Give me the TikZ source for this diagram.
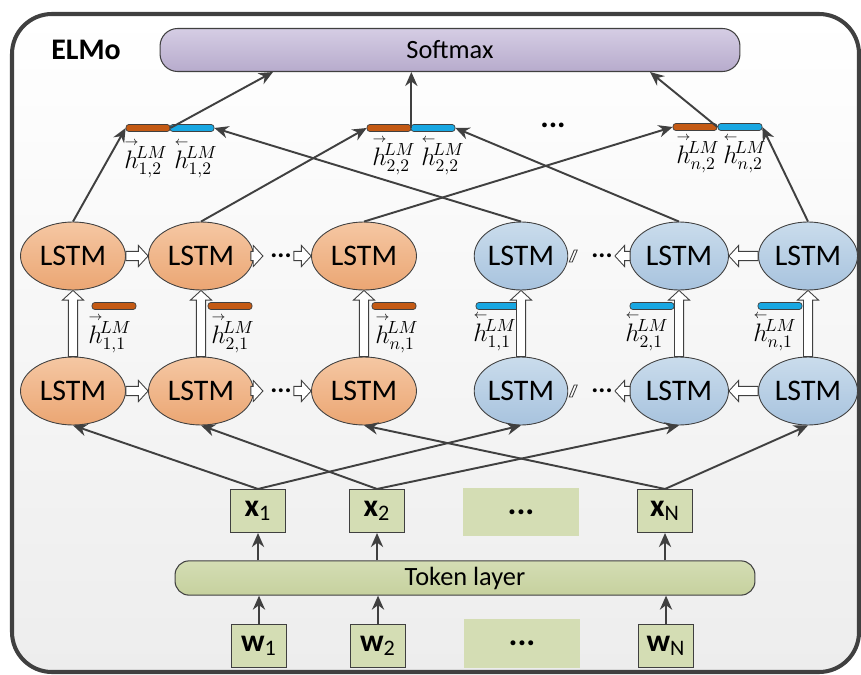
\documentclass[tikz,border=0pt]{standalone}
\usepackage{amsmath}
\usepackage{fontspec}
\setmainfont{Carlito}
\usetikzlibrary{arrows.meta}
\usetikzlibrary{shapes.geometric}
\usetikzlibrary{calc}

\definecolor{linegray}{HTML}{404040}
\definecolor{bggray}{HTML}{EDEDED}
\definecolor{softtop}{HTML}{D5CDE4}
\definecolor{softbot}{HTML}{B7ABCC}
\definecolor{orgtop}{HTML}{F5C7A3}
\definecolor{orgbot}{HTML}{EBA673}
\definecolor{blutop}{HTML}{CADCEC}
\definecolor{blubot}{HTML}{A8C3DE}
\definecolor{boxgreen}{HTML}{D4DDB4}
\definecolor{tokbot}{HTML}{C6D19E}
\definecolor{fwcol}{HTML}{C45A14}
\definecolor{bwcol}{HTML}{18A7E2}

\newcommand{\hf}[1]{\overset{\scriptscriptstyle\rightarrow}{h}{}^{\!LM}_{#1}}
\newcommand{\hb}[1]{\overset{\scriptscriptstyle\leftarrow}{h}{}^{\!LM}_{#1}}

\tikzset{
  lstmf/.style={ellipse, draw=linegray, line width=0.5pt, top color=orgtop, bottom color=orgbot,
    minimum width=2.1cm, minimum height=1.36cm, inner sep=0pt, font=\fontsize{17}{20}\selectfont},
  lstmb/.style={lstmf, top color=blutop, bottom color=blubot, minimum width=1.98cm},
  inbox/.style={rectangle, draw=linegray, line width=0.6pt, fill=boxgreen, minimum width=1.1cm,
    minimum height=0.86cm, inner sep=0pt, font=\fontsize{18}{20}\selectfont},
  dotbox/.style={rectangle, fill=boxgreen, minimum width=2.32cm, minimum height=0.98cm,
    font=\bfseries\fontsize{19}{20}\selectfont},
  fwbar/.style={rectangle, rounded corners=1.6pt, draw=linegray, line width=0.4pt, fill=fwcol,
    minimum width=0.88cm, minimum height=0.14cm, inner sep=0pt},
  bwbar/.style={fwbar, fill=bwcol},
  link/.style={draw=linegray, line width=1.1pt, -{Stealth[length=8pt,width=7pt]}},
  hollow/.style={draw=linegray, line width=0.5pt, fill=white, to path={
    let \p1=(\tikztostart), \p2=(\tikztotarget), \n1={atan2(\y2-\y1,\x2-\x1)},
      \n2={veclen(\x2-\x1,\y2-\y1)} in
    [rotate around={\n1:(\p1)}] (\p1) ++(0pt,-2.6pt) -- ++({\n2-5.5pt},0pt) -- ++(0pt,-3.4pt)
      -- ++(5.5pt,6pt) -- ++(-5.5pt,6pt) -- ++(0pt,-3.4pt) -- ++({5.5pt-\n2},0pt) -- cycle}},
  hlab/.style={inner sep=0pt, font=\fontsize{14}{15}\selectfont},
  rowdots/.style={inner sep=0pt, font=\bfseries\fontsize{15}{16}\selectfont}
}

\begin{document}
\begin{tikzpicture}[x=0.02cm, y=-0.02cm]

\useasboundingbox (0,0) rectangle (861,675);
\draw[linegray, line width=2.3pt, rounded corners=0.8cm, top color=white, bottom color=bggray]
  (12,14) rectangle (859,672);

\node[font=\bfseries\fontsize{17}{20}\selectfont] (elmo) at (86,50) {ELMo};
\node[rectangle, rounded corners=10pt, draw=linegray, line width=0.6pt, top color=softtop,
  bottom color=softbot, minimum width=11.6cm, minimum height=0.86cm,
  font=\fontsize{15}{18}\selectfont] (softmax) at (450,50) {Softmax};

\node[fwbar] (cf1) at (148,128) {};
\node[bwbar] (cb1) at (192,128) {};
\node[fwbar] (cf2) at (389,128) {};
\node[bwbar] (cb2) at (433,128) {};
\node[fwbar] (cfn) at (695,127) {};
\node[bwbar] (cbn) at (740,127) {};
\node[font=\bfseries\fontsize{18}{18}\selectfont] (tdots) at (553,125) {...};

\node[hlab] (lcf1) at (146,158) {$\hf{1,2}$};
\node[hlab] (lcb1) at (196,158) {$\hb{1,2}$};
\node[hlab] (lcf2) at (394,155) {$\hf{2,2}$};
\node[hlab] (lcb2) at (443,155) {$\hb{2,2}$};
\node[hlab] (lcfn) at (698,153) {$\hf{n,2}$};
\node[hlab] (lcbn) at (745,153) {$\hb{n,2}$};

\node[lstmf] (lf12) at (73,256) {LSTM};
\node[lstmf] (lf22) at (201,256) {LSTM};
\node[lstmf] (lfn2) at (364,256) {LSTM};
\node[lstmb, minimum width=1.82cm] (lb12) at (521,256) {LSTM};
\node[lstmb] (lb22) at (679,256) {LSTM};
\node[lstmb] (lbn2) at (808,256) {LSTM};

\node[lstmf] (lf11) at (73,391) {LSTM};
\node[lstmf] (lf21) at (201,391) {LSTM};
\node[lstmf] (lfn1) at (364,391) {LSTM};
\node[lstmb, minimum width=1.82cm] (lb11) at (521,391) {LSTM};
\node[lstmb] (lb21) at (679,391) {LSTM};
\node[lstmb] (lbn1) at (808,391) {LSTM};

\node[fwbar] (hf1) at (114,306) {};
\node[fwbar] (hf2) at (230,306) {};
\node[fwbar] (hfn) at (394,306) {};
\node[bwbar] (hb1) at (498,306) {};
\node[bwbar] (hb2) at (652,306) {};
\node[bwbar] (hbn) at (780,306) {};
\node[hlab] (lhf1) at (110,333) {$\hf{1,1}$};
\node[hlab] (lhf2) at (233,333) {$\hf{2,1}$};
\node[hlab] (lhfn) at (397,333) {$\hf{n,1}$};
\node[hlab] (lhb1) at (495,331) {$\hb{1,1}$};
\node[hlab] (lhb2) at (647,331) {$\hb{2,1}$};
\node[hlab] (lhbn) at (775,331) {$\hb{n,1}$};

\node[rowdots] (fd2) at (281,256) {...};
\node[rowdots] (fd1) at (281,391) {...};
\node[rowdots] (bd2) at (602,256) {...};
\node[rowdots] (bd1) at (602,391) {...};

\node[inbox] (x1) at (258,511) {\textbf{x}\textsubscript{1}};
\node[inbox] (x2) at (377,511) {\textbf{x}\textsubscript{2}};
\node[dotbox] (xd) at (521,512) {...};
\node[inbox] (xn) at (665,511) {\textbf{x}\textsubscript{N}};

\node[rectangle, rounded corners=8pt, draw=linegray, line width=0.6pt, top color=boxgreen,
  bottom color=tokbot, minimum width=11.6cm, minimum height=0.6cm,
  font=\fontsize{15}{18}\selectfont] (token) at (465,578) {Token layer};

\node[inbox] (w1) at (259,646) {\textbf{w}\textsubscript{1}};
\node[inbox] (w2) at (378,646) {\textbf{w}\textsubscript{2}};
\node[dotbox] (wd) at (522,643) {...};
\node[inbox] (wn) at (666,646) {\textbf{w}\textsubscript{N}};

\coordinate (in1) at (273,72);
\coordinate (in3) at (650,72);
\draw[link] (cf1.east) -- (in1);
\draw[link] (cf2.east) -- (cf2.east |- softmax.south);
\draw[link] (cfn.east) -- (in3);

\draw[link] (lf12.north) -- (cf1.west);
\draw[link] (lf22.north) -- (cf2.west);
\draw[link] (lfn2.north) -- (cfn.west);
\draw[link] (lb12.north) -- (cb1.east);
\draw[link] (lb22.north) -- (cb2.east);
\draw[link] (lbn2.north) -- (cbn.east);

\draw[hollow] (lf11.north) to (lf12.south);
\draw[hollow] (lf21.north) to (lf22.south);
\draw[hollow] (lfn1.north) to (lfn2.south);
\draw[hollow] (lb11.north) to (lb12.south);
\draw[hollow] (lb21.north) to (lb22.south);
\draw[hollow] (lbn1.north) to (lbn2.south);

\foreach \r in {1,2}{
  \coordinate (fs\r) at ($(lf2\r.east)+(9,0)$);
  \draw[hollow] (lf1\r.east) to (lf2\r.west);
  \draw[hollow] ($(lf2\r.east)+(-3,0)$) to (fs\r);
  \draw[hollow] ($(fd\r.east)+(2,0)$) to (lfn\r.west);
  \draw[linegray, line width=0.5pt, fill=white] ($(lb1\r.east)+(1,6)$) -- ++(3,0) -- ++(5,-12)
    -- ++(-3,0) -- cycle;
  \draw[hollow] ($(lb2\r.west)+(1,0)$) to ($(bd\r.east)+(2,0)$);
  \draw[hollow] (lbn\r.west) to (lb2\r.east);
}

\draw[link] (x1.north) -- (lf11.south);
\draw[link] (x1.north) -- (lb11.south);
\draw[link] (x2.north) -- (lf21.south);
\draw[link] (x2.north) -- (lb21.south);
\draw[link] (xn.north) -- (lfn1.south);
\draw[link] (xn.north) -- (lbn1.south);

\draw[link] (x1.south |- token.north) -- (x1.south);
\draw[link] (x2.south |- token.north) -- (x2.south);
\draw[link] (xn.south |- token.north) -- (xn.south);
\draw[link] (w1.north) -- (w1.north |- token.south);
\draw[link] (w2.north) -- (w2.north |- token.south);
\draw[link] (wn.north) -- (wn.north |- token.south);

\end{tikzpicture}
\end{document}
